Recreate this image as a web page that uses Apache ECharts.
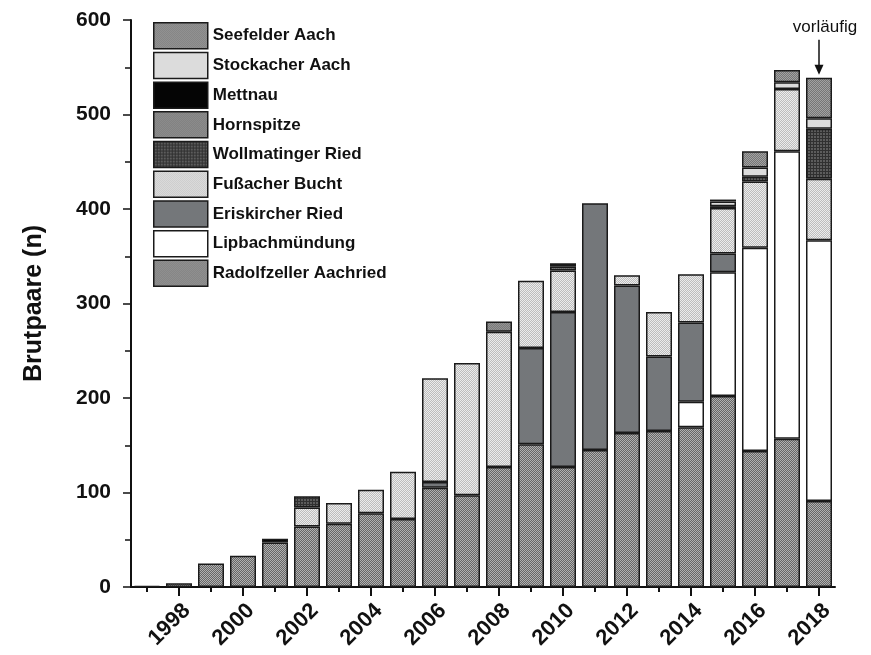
<!DOCTYPE html>
<html>
<head>
<meta charset="utf-8">
<script src="https://cdn.jsdelivr.net/npm/echarts@6/dist/echarts.min.js"></script>
<style>
  html, body { margin: 0; padding: 0; background: #fff; }
  #chart { width: 871px; height: 655px; }
</style>
</head>
<body>
<div id="chart"></div>
<script>
// Brutpaare per site and year, stacked bottom to top
const years = ['1997','1998','1999','2000','2001','2002','2003','2004','2005','2006','2007',
               '2008','2009','2010','2011','2012','2013','2014','2015','2016','2017','2018'];

const radolfzeller = [1, 4, 25, 33, 47, 64, 67, 78, 72, 105, 97, 127, 151, 127, 145, 163, 165, 169, 202, 144, 157, 91];
const lipbach      = [0, 0, 0, 0, 0, 0, 0, 0, 0, 0, 0, 0, 0, 0, 0, 0, 0, 27, 131, 215, 304, 276];
const eriskirch    = [0, 0, 0, 0, 0, 0, 0, 0, 0, 6, 0, 0, 102, 164, 261, 156, 79, 84, 20, 0, 0, 0];
const fussach      = [0, 0, 0, 0, 0, 20, 22, 25, 50, 110, 140, 143, 71, 44, 0, 11, 47, 51, 48, 70, 66, 65];
const wollmatingen = [0, 0, 0, 0, 0, 12, 0, 0, 0, 0, 0, 0, 0, 0, 0, 0, 0, 0, 0, 5, 0, 53];
const hornspitze   = [0, 0, 0, 0, 0, 0, 0, 0, 0, 0, 0, 11, 0, 4, 0, 0, 0, 0, 0, 0, 0, 0];
const mettnau      = [0, 0, 0, 0, 4, 0, 0, 0, 0, 0, 0, 0, 0, 3.5, 0, 0, 0, 0, 2, 0, 0, 0];
const stockach     = [0, 0, 0, 0, 0, 0, 0, 0, 0, 0, 0, 0, 0, 0, 0, 0, 0, 0, 5, 10, 7, 11];
const seefelden    = [0, 0, 0, 0, 0, 0, 0, 0, 0, 0, 0, 0, 0, 0, 0, 0, 0, 0, 2, 17, 13, 43];

const yTicks = [0, 100, 200, 300, 400, 500, 600];
const noteText = 'vorläufig';

// small repeating textures for the hatched fills
function texture(a, b) {
  const c = document.createElement('canvas');
  c.width = 2; c.height = 2;
  const g = c.getContext('2d');
  g.fillStyle = a; g.fillRect(0, 0, 2, 2);
  g.fillStyle = b; g.fillRect(0, 0, 1, 1); g.fillRect(1, 1, 1, 1);
  return { image: c, repeat: 'repeat' };
}
function gridTexture(a, b) {
  const c = document.createElement('canvas');
  c.width = 3; c.height = 3;
  const g = c.getContext('2d');
  g.fillStyle = a; g.fillRect(0, 0, 3, 3);
  g.fillStyle = b; g.fillRect(1, 1, 2, 2);
  return { image: c, repeat: 'repeat' };
}

const FONT = '"Liberation Sans", Arial, Helvetica, sans-serif';

const stackDefs = [
  { name: 'Radolfzeller Aachried', data: radolfzeller, fill: texture('#666666', '#b0b0b0') },
  { name: 'Lipbachmündung',        data: lipbach,      fill: '#ffffff' },
  { name: 'Eriskircher Ried',      data: eriskirch,    fill: '#74777a' },
  { name: 'Fußacher Bucht',        data: fussach,      fill: texture('#bdbdbd', '#ececec') },
  { name: 'Wollmatinger Ried',     data: wollmatingen, fill: gridTexture('#303030', '#5c5c5c') },
  { name: 'Hornspitze',            data: hornspitze,   fill: texture('#7a7a7a', '#949494') },
  { name: 'Mettnau',               data: mettnau,      fill: '#050505' },
  { name: 'Stockacher Aach',       data: stockach,     fill: '#dcdcdc' },
  { name: 'Seefelder Aach',        data: seefelden,    fill: texture('#767676', '#a2a2a2') }
];

const series = stackDefs.map(d => ({
  name: d.name,
  type: 'bar',
  stack: 'sites',
  xAxisIndex: 0,
  barWidth: 26,
  data: d.data.map(v => (v === 0 ? null : v)),
  itemStyle: { color: d.fill, borderColor: '#1a1a1a', borderWidth: 1.5 },
  emphasis: { disabled: true },
  animation: false
}));

const totals = years.map((_, i) => stackDefs.reduce((s, d) => s + d.data[i], 0));

const chart = echarts.init(document.getElementById('chart'), null, { renderer: 'canvas' });

chart.setOption({
  animation: false,
  backgroundColor: '#ffffff',
  grid: { left: 131, right: 36, top: 20, bottom: 68, containLabel: false },
  legend: {
    orient: 'vertical',
    left: 153,
    top: 22,
    padding: 0,
    icon: 'rect',
    itemWidth: 54,
    itemHeight: 26,
    itemGap: 2.2,
    data: stackDefs.map(d => d.name).reverse(),
    itemStyle: { borderColor: '#1a1a1a', borderWidth: 1.5 },
    textStyle: { fontFamily: FONT, fontWeight: 'bold', fontSize: 17, color: '#111' },
    selectedMode: false
  },
  xAxis: [
    {
      type: 'category',
      data: years,
      position: 'bottom',
      axisLine: { show: true, lineStyle: { color: '#111', width: 2 } },
      axisTick: { show: true, alignWithLabel: true, length: 9, interval: i => i % 2 === 1, lineStyle: { color: '#111', width: 2 } },
      axisLabel: {
        interval: i => i % 2 === 1,
        rotate: 45,
        margin: 4,
        align: 'right',
        verticalAlign: 'top',
        padding: [6, 6, 0, 0],
        fontFamily: FONT, fontWeight: 'bold', fontSize: 22, color: '#111'
      }
    },
    {
      type: 'category',
      data: years,
      position: 'bottom',
      axisLine: { show: false },
      axisTick: { show: true, alignWithLabel: true, length: 5, interval: 0, lineStyle: { color: '#111', width: 2 } },
      axisLabel: { show: false }
    }
  ],
  yAxis: {
    type: 'value',
    min: yTicks[0],
    max: yTicks[yTicks.length - 1],
    interval: 100,
    name: 'Brutpaare (n)',
    nameLocation: 'middle',
    nameGap: 84,
    nameTextStyle: { fontFamily: FONT, fontWeight: 'bold', fontSize: 25, color: '#111' },
    axisLine: { show: true, lineStyle: { color: '#111', width: 2 } },
    axisTick: { show: true, length: 8, lineStyle: { color: '#111', width: 1.5 } },
    minorTick: { show: true, splitNumber: 2, length: 6, lineStyle: { color: '#111', width: 1.5 } },
    splitLine: { show: false },
    axisLabel: { margin: 20, fontFamily: FONT, fontWeight: 'bold', fontSize: 21, color: '#111' }
  },
  series: series
});

// "vorläufig" note with an arrow pointing at the last (provisional) bar
const lastIdx = years.length - 1;
const tip = chart.convertToPixel({ xAxisIndex: 0, yAxisIndex: 0 }, [years[lastIdx], totals[lastIdx]]);
chart.setOption({
  graphic: [
    {
      type: 'text',
      x: tip[0] + 6, y: tip[1] - 50,
      style: { text: noteText, fontFamily: FONT, fontSize: 17, fill: '#111', align: 'center', verticalAlign: 'middle' }
    },
    {
      type: 'line',
      shape: { x1: tip[0], y1: tip[1] - 38, x2: tip[0], y2: tip[1] - 10 },
      style: { stroke: '#111', lineWidth: 1.5 }
    },
    {
      type: 'polygon',
      shape: { points: [[tip[0] - 4.5, tip[1] - 13], [tip[0] + 4.5, tip[1] - 13], [tip[0], tip[1] - 3]] },
      style: { fill: '#111' }
    }
  ]
});
</script>
</body>
</html>
